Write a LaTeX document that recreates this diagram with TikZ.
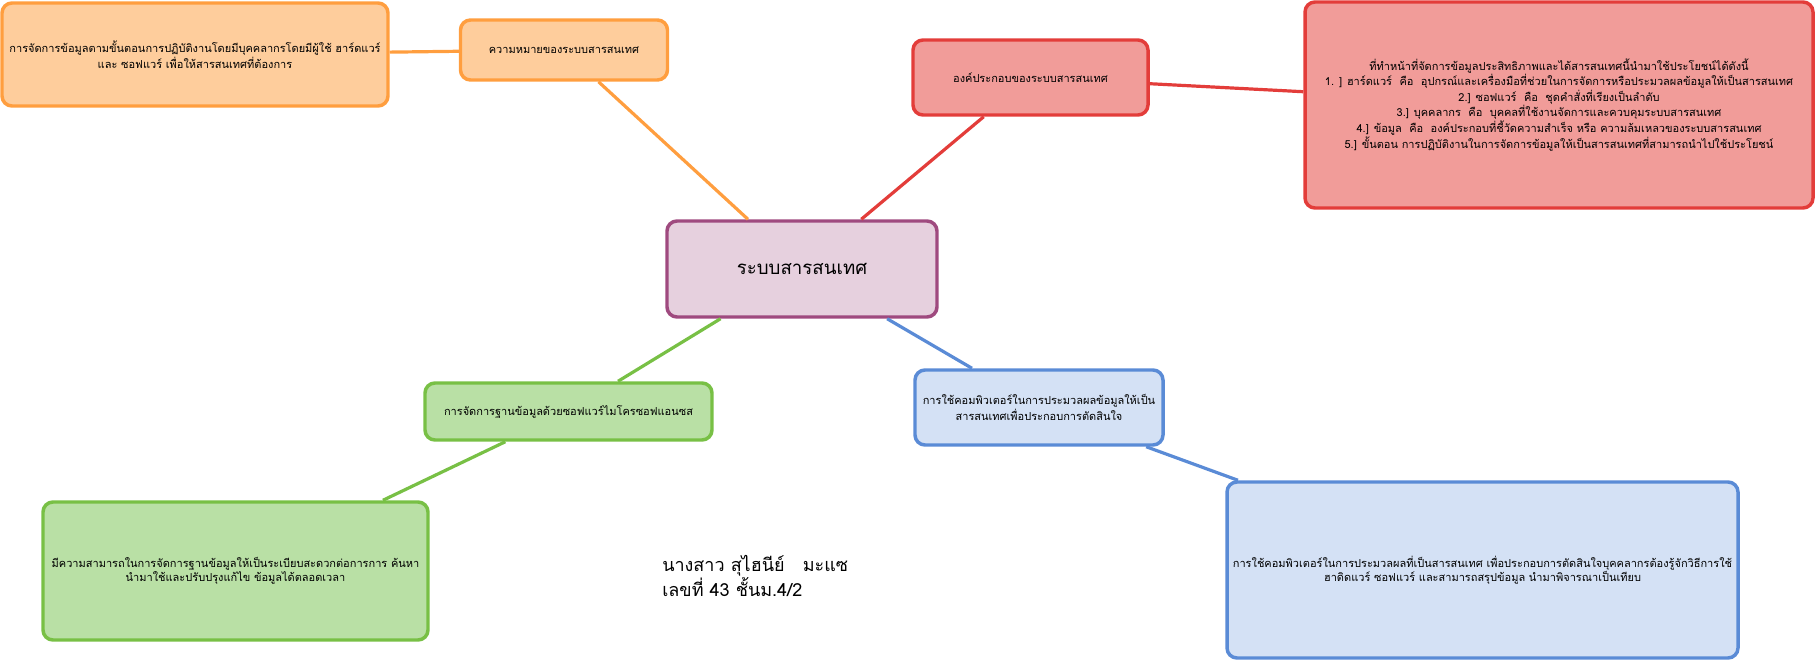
\documentclass[tikz,border=0pt]{standalone}
\usepackage{fontspec}
\setmainfont{Loma}[Script=Thai]
\definecolor{ofill}{HTML}{FECD9C}
\definecolor{odraw}{HTML}{FF9E3F}
\definecolor{rfill}{HTML}{F19C99}
\definecolor{rdraw}{HTML}{E33D3A}
\definecolor{cfill}{HTML}{E6D0DE}
\definecolor{cdraw}{HTML}{9F4A7F}
\definecolor{gfill}{HTML}{B9E0A5}
\definecolor{gdraw}{HTML}{78C045}
\definecolor{bfill}{HTML}{D4E1F5}
\definecolor{bdraw}{HTML}{5A8BD6}
\tikzset{
  box/.style={rectangle, rounded corners=7.5pt, line width=2.6pt, align=center,
    inner sep=2pt, font=\fontsize{8.25pt}{10.5pt}\selectfont},
  obox/.style={box, fill=ofill, draw=odraw},
  rbox/.style={box, fill=rfill, draw=rdraw},
  cbox/.style={box, fill=cfill, draw=cdraw, font=\fontsize{14pt}{17pt}\selectfont},
  gbox/.style={box, fill=gfill, draw=gdraw},
  bbox/.style={box, fill=bbfill, draw=bdraw},
  link/.style={line width=2.4pt},
}
\colorlet{bbfill}{bfill}
\begin{document}
\begin{tikzpicture}[x=0.75pt,y=-0.75pt]
\useasboundingbox (0,0) rectangle (1815,660);
% nodes
\node[cbox, minimum width=270*0.75pt, minimum height=96*0.75pt] (c) at (802,269) {ระบบสารสนเทศ};
\node[obox, minimum width=386*0.75pt, minimum height=103*0.75pt] (ob) at (195,54.5)
  {การจัดการข้อมูลตามขั้นตอนการปฏิบัติงานโดยมีบุคคลากรโดยมีผู้ใช้ ฮาร์ดแวร์\\และ ซอฟแวร์ เพื่อให้สารสนเทศที่ต้องการ};
\node[obox, minimum width=207*0.75pt, minimum height=60*0.75pt] (os) at (564,50) {ความหมายของระบบสารสนเทศ};
\node[rbox, minimum width=235*0.75pt, minimum height=75*0.75pt] (rs) at (1030.5,77.5) {องค์ประกอบของระบบสารสนเทศ};
\node[rbox, minimum width=508*0.75pt, minimum height=206*0.75pt] (rb) at (1559,105)
  {ที่ทำหน้าที่จัดการข้อมูลประสิทธิภาพและได้สารสนเทศนี้นำมาใช้ประโยชน์ได้ดังนี้\\
   1. ] ฮาร์ดแวร์\ \ คือ\ \ อุปกรณ์และเครื่องมือที่ช่วยในการจัดการหรือประมวลผลข้อมูลให้เป็นสารสนเทศ\\
   2.] ซอฟแวร์\ \ คือ\ \ ชุดคำสั่งที่เรียงเป็นลำดับ\\
   3.] บุคคลากร\ \ คือ\ \ บุคคลที่ใช้งานจัดการและควบคุมระบบสารสนเทศ\\
   4.] ข้อมูล\ \ คือ\ \ องค์ประกอบที่ชี้วัดความสำเร็จ หรือ ความล้มเหลวของระบบสารสนเทศ\\
   5.] ขั้นตอน การปฏิบัติงานในการจัดการข้อมูลให้เป็นสารสนเทศที่สามารถนำไปใช้ประโยชน์};
\node[gbox, minimum width=287*0.75pt, minimum height=57*0.75pt] (gs) at (568.5,411.5) {การจัดการฐานข้อมูลด้วยซอฟแวร์ไมโครซอฟแอนซส};
\node[gbox, minimum width=385*0.75pt, minimum height=138*0.75pt] (gb) at (235.5,571)
  {มีความสามารถในการจัดการฐานข้อมูลให้เป็นระเบียบสะดวกต่อการการ ค้นหา\\นำมาใช้และปรับปรุงแก้ไข ข้อมูลได้ตลอดเวลา};
\node[bbox, minimum width=248*0.75pt, minimum height=75*0.75pt] (bs) at (1039,407.5)
  {การใช้คอมพิวเตอร์ในการประมวลผลข้อมูลให้เป็น\\สารสนเทศเพื่อประกอบการตัดสินใจ};
\node[bbox, minimum width=511*0.75pt, minimum height=176*0.75pt] (bb) at (1482.5,570)
  {การใช้คอมพิวเตอร์ในการประมวลผลที่เป็นสารสนเทศ เพื่อประกอบการตัดสินใจบุคคลากรต้องรู้จักวิธีการใช้\\ฮาดิดแวร์ ซอฟแวร์ และสามารถสรุปข้อมูล นำมาพิจารณาเป็นเทียบ};
\node[anchor=west, align=left, inner sep=0pt, font=\fontsize{13.5pt}{16.5pt}\selectfont] (name) at (662,576)
  {นางสาว สุไฮนีย์\ \ \ มะแซ\\เลขที่ 43 ชั้นม.4/2};
% links
\begin{scope}[on background layer/.try]
\end{scope}
\draw[link, odraw] (ob) -- (os);
\draw[link, odraw] (os) -- (c);
\draw[link, rdraw] (rs) -- (c);
\draw[link, rdraw] (rs) -- (rb);
\draw[link, gdraw] (c) -- (gs);
\draw[link, gdraw] (gs) -- (gb);
\draw[link, bdraw] (c) -- (bs);
\draw[link, bdraw] (bs) -- (bb);
\end{tikzpicture}
\end{document}
